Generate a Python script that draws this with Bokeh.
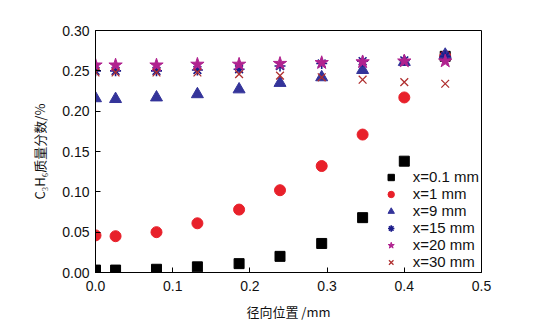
from bokeh.plotting import figure
from bokeh.models import Range1d, FixedTicker, PrintfTickFormatter, Legend, LegendItem
from bokeh.embed import file_html
from bokeh.resources import INLINE

# radial position (mm)
r = [0.0, 0.026, 0.079, 0.132, 0.186, 0.239, 0.293, 0.346, 0.400, 0.453]

# C3H6 mass fraction (%) at different axial positions
x_01 = [0.003, 0.003, 0.004, 0.007, 0.011, 0.020, 0.036, 0.068, 0.138, 0.268]
x_1 = [0.046, 0.045, 0.050, 0.061, 0.078, 0.102, 0.132, 0.171, 0.217, 0.268]
x_9 = [0.216, 0.215, 0.217, 0.221, 0.227, 0.235, 0.242, 0.251, 0.261, 0.270]
x_15 = [0.250, 0.250, 0.250, 0.251, 0.252, 0.256, 0.259, 0.262, 0.263, 0.268]
x_20 = [0.257, 0.257, 0.257, 0.258, 0.258, 0.259, 0.260, 0.261, 0.262, 0.262]
x_30 = [0.248, 0.248, 0.248, 0.248, 0.246, 0.244, 0.242, 0.239, 0.236, 0.234]

labels = ["x=0.1 mm", "x=1 mm", "x=9 mm", "x=15 mm", "x=20 mm", "x=30 mm"]
x_ticks = [0.0, 0.1, 0.2, 0.3, 0.4, 0.5]
y_ticks = [0.0, 0.05, 0.10, 0.15, 0.20, 0.25, 0.30]

LATIN = "Liberation Sans"
CJK = "Noto Sans CJK SC"

p = figure(width=539, height=329, output_backend="svg", toolbar_location=None,
           x_range=Range1d(0, 0.5), y_range=Range1d(0, 0.30),
           min_border_left=95, min_border_right=58, min_border_top=30, min_border_bottom=57)
p.background_fill_color = "white"
p.border_fill_color = "white"
p.outline_line_color = "black"
p.outline_line_width = 1
p.xgrid.visible = False
p.ygrid.visible = False

for ax in (p.xaxis[0], p.yaxis[0]):
    ax.major_tick_in = 5
    ax.major_tick_out = 0
    ax.minor_tick_in = 0
    ax.minor_tick_out = 0
    ax.axis_line_color = "black"
    ax.major_tick_line_color = "black"
    ax.major_label_text_font = LATIN
    ax.major_label_text_font_size = "14px"
    ax.major_label_text_color = "#111111"
    ax.axis_label_text_font = CJK
    ax.axis_label_text_font_size = "13px"
    ax.axis_label_text_font_style = "normal"
    ax.axis_label_text_color = "#111111"

p.xaxis.ticker = FixedTicker(ticks=x_ticks)
p.yaxis.ticker = FixedTicker(ticks=y_ticks)
p.xaxis.formatter = PrintfTickFormatter(format="%.1f")
p.yaxis.formatter = PrintfTickFormatter(format="%.2f")
p.xaxis.major_label_standoff = 8
p.yaxis.major_label_standoff = 6
p.xaxis.axis_label = "径向位置 /mm"
p.yaxis.axis_label = "C₃H₆质量分数/%"
p.xaxis.axis_label_standoff = 8
p.yaxis.axis_label_standoff = 10

r1 = p.scatter(r, x_01, marker="square", size=10, fill_color="black", line_color="black")
r2 = p.scatter(r, x_1, marker="circle", size=11, fill_color="#e8202a", line_color="#e8202a")
r3 = p.scatter(r, x_9, marker="triangle", size=12, fill_color="#34349a", line_color="#34349a")
r4 = p.scatter(r, x_15, marker="asterisk", size=11, line_color="#1c1c8a", line_width=1.6)
r5 = p.scatter(r, x_20, marker="star", size=14, fill_color="#b0228f", line_color="#b0228f")
r6 = p.scatter(r, x_30, marker="x", size=11, line_color="#b03030", line_width=1.3)

legend = Legend(items=[LegendItem(label=l, renderers=[g]) for l, g in
                       zip(labels, [r1, r2, r3, r4, r5, r6])],
                location="bottom_right")
legend.label_text_font = LATIN
legend.label_text_font_size = "15px"
legend.label_text_color = "#111111"
legend.border_line_alpha = 0
legend.background_fill_alpha = 0
legend.padding = 0
legend.margin = 2
legend.spacing = 0
legend.label_height = 16
legend.glyph_height = 16
legend.glyph_width = 36
legend.label_standoff = 4
p.add_layout(legend)

open("out.html", "w").write(file_html(p, INLINE))
